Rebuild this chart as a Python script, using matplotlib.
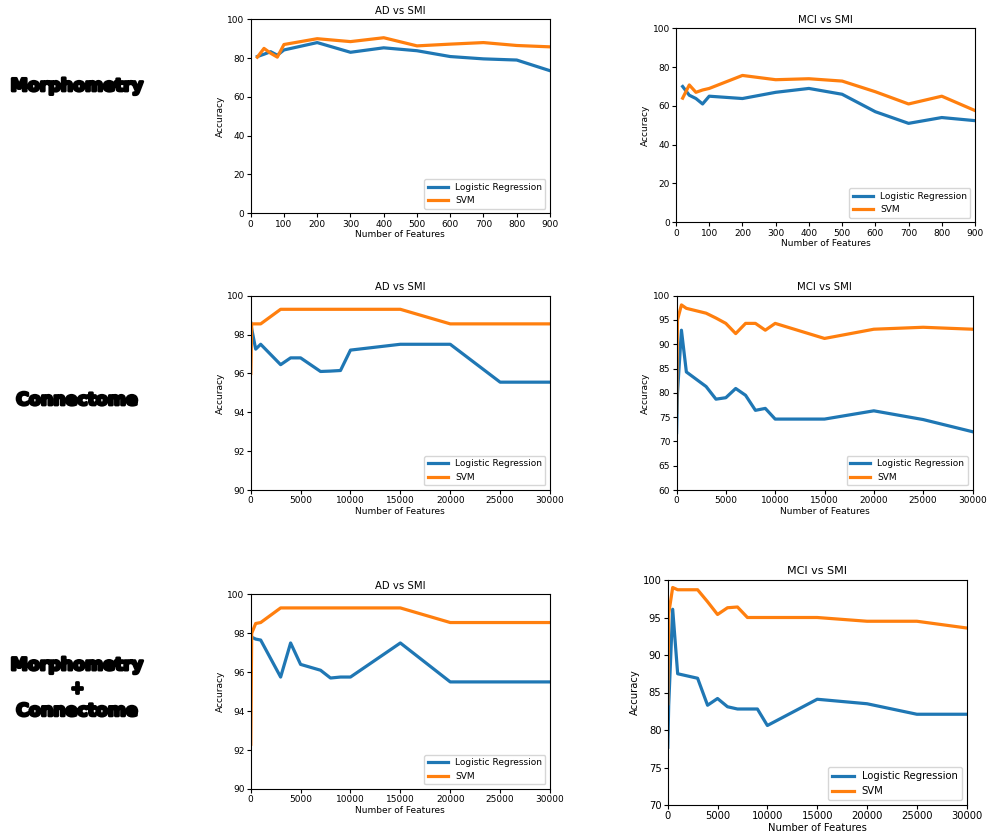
import matplotlib
matplotlib.use("Agg")
import matplotlib.pyplot as plt
import matplotlib.patheffects as pe

# feature counts
morph_x = [20, 40, 60, 80, 100, 200, 300, 400, 500, 600, 700, 800, 900]
conn_x = [10, 100, 500, 1000, 3000, 4000, 5000, 6000, 7000, 8000,
          9000, 10000, 15000, 20000, 25000, 30000]

# morphometry
morph_ad_lr = [80.8, 82.0, 83.3, 81.5, 84.2, 88.0, 83.0, 85.3, 83.8, 80.8, 79.6, 79.0, 73.5]
morph_ad_svm = [80.5, 85.0, 82.5, 80.5, 87.0, 90.0, 88.5, 90.5, 86.3, 87.2, 88.0, 86.5, 85.8]
morph_mci_lr = [70.0, 65.5, 63.8, 61.0, 65.0, 63.8, 67.0, 69.0, 66.0, 57.0, 51.0, 54.0, 52.4]
morph_mci_svm = [64.0, 70.8, 67.0, 68.2, 69.0, 75.7, 73.5, 74.0, 72.8, 67.3, 61.0, 65.0, 57.6]

# connectome
conn_ad_lr = [98.6, 98.3, 97.25, 97.5, 96.45, 96.8, 96.8, 96.45, 96.1, 96.12,
              96.15, 97.2, 97.5, 97.5, 95.55, 95.55]
conn_ad_svm = [96.0, 98.55, 98.55, 98.55, 99.3, 99.3, 99.3, 99.3, 99.3, 99.3,
               99.3, 99.3, 99.3, 98.55, 98.55, 98.55]
conn_mci_lr = [71.8, 80.0, 92.9, 84.3, 81.3, 78.7, 79.0, 80.9, 79.5, 76.4,
               76.8, 74.6, 74.6, 76.3, 74.5, 72.0]
conn_mci_svm = [76.0, 95.0, 98.1, 97.4, 96.4, 95.4, 94.3, 92.2, 94.3, 94.3,
                92.9, 94.3, 91.2, 93.1, 93.5, 93.1]

# morphometry + connectome
comb_ad_lr = [97.8, 97.8, 97.7, 97.65, 95.75, 97.5, 96.4, 96.25, 96.1, 95.7,
              95.75, 95.75, 97.5, 95.5, 95.5, 95.5]
comb_ad_svm = [92.3, 98.0, 98.5, 98.55, 99.3, 99.3, 99.3, 99.3, 99.3, 99.3,
               99.3, 99.3, 99.3, 98.55, 98.55, 98.55]
comb_mci_lr = [77.7, 83.3, 96.1, 87.5, 86.9, 83.3, 84.2, 83.1, 82.8, 82.8,
               82.8, 80.6, 84.1, 83.5, 82.1, 82.1]
comb_mci_svm = [83.5, 95.5, 99.0, 98.7, 98.7, 97.1, 95.4, 96.3, 96.4, 95.0,
                95.0, 95.0, 95.0, 94.5, 94.5, 93.6]

row_labels = ["Morphometry", "Connectome", "Morphometry\n+\nConnectome"]

W, H = 988, 836
fig = plt.figure(figsize=(W / 100, H / 100), dpi=100)


def add_ax(left, right, top, bottom):
    return fig.add_axes([left / W, 1 - bottom / H, (right - left) / W, (bottom - top) / H])


def panel(ax, x, lr, svm, title, xlim, ylim, yticks, fs=6.5):
    ax.plot(x, lr, color="#1f77b4", lw=2.3, label="Logistic Regression")
    ax.plot(x, svm, color="#ff7f0e", lw=2.3, label="SVM")
    ax.set_xlim(*xlim)
    ax.set_ylim(*ylim)
    ax.set_yticks(yticks)
    ax.set_title(title, fontsize=fs + 0.8, pad=4)
    ax.set_xlabel("Number of Features", fontsize=fs, labelpad=1)
    ax.set_ylabel("Accuracy", fontsize=fs, labelpad=2)
    ax.tick_params(labelsize=fs, length=3, pad=1.5)
    ax.legend(loc="lower right", fontsize=fs, handlelength=2.2)


ax1 = add_ax(250.7, 550, 19.3, 213.3)
panel(ax1, morph_x, morph_ad_lr, morph_ad_svm, "AD vs SMI", (0, 900), (0, 100), range(0, 101, 20))
ax1.set_xticks(range(0, 901, 100))

ax2 = add_ax(676, 975, 28.3, 222.3)
panel(ax2, morph_x, morph_mci_lr, morph_mci_svm, "MCI vs SMI", (0, 900), (0, 100), range(0, 101, 20))
ax2.set_xticks(range(0, 901, 100))

ax3 = add_ax(250.7, 550, 295.7, 490)
panel(ax3, conn_x, conn_ad_lr, conn_ad_svm, "AD vs SMI", (0, 30000), (90, 100), range(90, 101, 2))

ax4 = add_ax(676.5, 972.5, 295.7, 490)
panel(ax4, conn_x, conn_mci_lr, conn_mci_svm, "MCI vs SMI", (0, 30000), (60, 100), range(60, 101, 5))

ax5 = add_ax(250.7, 550, 594.3, 789)
panel(ax5, conn_x, comb_ad_lr, comb_ad_svm, "AD vs SMI", (0, 30000), (90, 100), range(90, 101, 2))

ax6 = add_ax(667.7, 966.7, 580, 805)
panel(ax6, conn_x, comb_mci_lr, comb_mci_svm, "MCI vs SMI", (0, 30000), (70, 100), range(70, 101, 5), fs=7.2)

for ax in [ax3, ax4, ax5, ax6]:
    ax.set_xticks(range(0, 30001, 5000))

# row labels on the left
label_y = [86, 400, 688]
for lab, y in zip(row_labels, label_y):
    fig.text(77 / W, 1 - y / H, lab, ha="center", va="center", fontsize=12.5,
             fontweight="bold", linespacing=1.35,
             path_effects=[pe.withStroke(linewidth=2.0, foreground="black")])

fig.savefig("out.png", dpi=100)
